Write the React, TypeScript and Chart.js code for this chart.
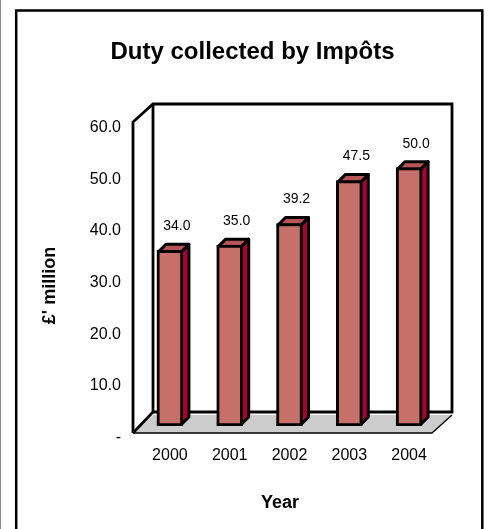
import React, { useEffect, useRef } from "react";
import { Chart, registerables } from "chart.js";

Chart.register(...registerables);

const years = ["2000", "2001", "2002", "2003", "2004"];
const duty = [34.0, 35.0, 39.2, 47.5, 50.0];
const yTicks = [0, 10, 20, 30, 40, 50, 60];

const FONT = "'Liberation Sans', Arial, sans-serif";
const BAR_FRONT = "#C76F69";
const BAR_TOP = "#B5565A";
const BAR_SIDE = "#A90038";
const FLOOR = "#CCCCCC";

const poly = (ctx: CanvasRenderingContext2D, pts: number[][]) => {
  ctx.beginPath();
  pts.forEach(([x, y], i) => (i ? ctx.lineTo(x, y) : ctx.moveTo(x, y)));
};

const frame3d = {
  id: "frame3d",
  beforeDraw(chart: any) {
    const { ctx, width, height } = chart;
    ctx.save();
    ctx.fillStyle = "#fff";
    ctx.fillRect(0, 0, width, height);
    ctx.fillStyle = "#8a8a8a";
    ctx.fillRect(0, 0, 1, height);
    ctx.strokeStyle = "#000";
    ctx.lineWidth = 2.5;
    ctx.beginPath();
    ctx.moveTo(16.2, height + 2);
    ctx.lineTo(16.2, 10.5);
    ctx.lineTo(482.3, 10.5);
    ctx.lineTo(482.3, height + 2);
    ctx.stroke();
    ctx.restore();
  },
  beforeDatasetsDraw(chart: any) {
    const { ctx, chartArea: a } = chart;
    const L = a.left, R = a.right, T = a.top, B = a.bottom;
    const dx = 20, dy = 20;
    ctx.save();
    ctx.lineJoin = "miter";
    // floor
    ctx.fillStyle = FLOOR;
    poly(ctx, [[L, B], [R, B], [R + dx, B - dy + 2], [L + dx, B - dy + 2]]);
    ctx.closePath();
    ctx.fill();
    ctx.strokeStyle = "#000";
    ctx.lineWidth = 1.3;
    poly(ctx, [[L, B], [R, B], [R + dx, B - dy + 2]]);
    ctx.stroke();
    // walls
    ctx.lineWidth = 2.8;
    poly(ctx, [[L, B], [L, T - 1], [L + dx, T - 19], [R + dx, T - 19], [R + dx, B - dy - 1], [L + dx, B - dy - 1]]);
    ctx.stroke();
    poly(ctx, [[L + dx, T - 19], [L + dx, B - dy - 1], [L, B]]);
    ctx.stroke();
    ctx.restore();
    // bars: side and top faces, then the front faces shifted into the depth
    const meta = chart.getDatasetMeta(0);
    ctx.save();
    ctx.translate(7, -7);
    ctx.strokeStyle = "#000";
    ctx.lineWidth = 3;
    ctx.lineJoin = "round";
    const d = 7.5;
    meta.data.forEach((bar: any) => {
      const l = bar.x - bar.width / 2 + 1.5;
      const r = bar.x + bar.width / 2 - 1.5;
      const t = bar.y + 1.5;
      const b = bar.base - 1.5;
      ctx.fillStyle = BAR_SIDE;
      poly(ctx, [[r, t], [r + d, t - d], [r + d, b - d], [r, b]]);
      ctx.closePath();
      ctx.fill();
      ctx.stroke();
      ctx.fillStyle = BAR_TOP;
      poly(ctx, [[l, t], [l + d, t - d], [r + d, t - d], [r, t]]);
      ctx.closePath();
      ctx.fill();
      ctx.stroke();
    });
  },
  afterDatasetsDraw(chart: any) {
    const { ctx } = chart;
    ctx.restore();
    const meta = chart.getDatasetMeta(0);
    ctx.save();
    ctx.fillStyle = "#000";
    ctx.font = `14px ${FONT}`;
    ctx.textAlign = "center";
    ctx.textBaseline = "middle";
    meta.data.forEach((bar: any, i: number) => {
      ctx.fillText(duty[i].toFixed(1), bar.x + 14, bar.y - 31);
    });
    ctx.restore();
  },
};

export default function App() {
  const ref = useRef<HTMLCanvasElement>(null);
  useEffect(() => {
    const chart = new Chart(ref.current as HTMLCanvasElement, {
      type: "bar",
      data: {
        labels: years,
        datasets: [
          {
            data: duty,
            backgroundColor: BAR_FRONT,
            borderColor: "#000",
            borderWidth: 3,
            borderSkipped: false,
            barThickness: 26,
          },
        ],
      },
      options: {
        responsive: false,
        animation: false,
        events: [],
        layout: { padding: { left: 33, right: 16, top: 0, bottom: 0 } },
        plugins: {
          legend: { display: false },
          tooltip: { enabled: false },
          title: {
            display: true,
            text: "Duty collected by Impôts",
            color: "#000",
            font: { family: FONT, size: 24, weight: "bold", lineHeight: 1.2 },
            padding: { top: 38, bottom: 56.2 },
          },
        },
        scales: {
          x: {
            grid: { display: false, drawTicks: false },
            border: { display: false },
            ticks: {
              color: "#000",
              font: { family: FONT, size: 16 },
              padding: 13,
              labelOffset: 7,
              maxRotation: 0,
            },
            title: {
              display: true,
              text: "Year ",
              color: "#000",
              font: { family: FONT, size: 18, weight: "bold" },
              padding: { top: 0, bottom: 15 },
            },
            afterFit(scale: any) {
              scale.height = 96;
            },
          },
          y: {
            min: 0,
            max: 60,
            afterBuildTicks(scale: any) {
              scale.ticks = yTicks.map((value) => ({ value }));
            },
            grid: { display: false, drawTicks: false },
            border: { display: false },
            ticks: {
              color: "#000",
              font: { family: FONT, size: 16 },
              padding: 12,
              labelOffset: 4.5,
              callback: (v: any) => (Number(v) === 0 ? "-" : Number(v).toFixed(1)),
            },
            title: {
              display: true,
              text: "£' million   ",
              color: "#000",
              font: { family: FONT, size: 18, weight: "bold" },
              padding: { top: 6, bottom: 0 },
            },
            afterFit(scale: any) {
              scale.width = 100;
            },
          },
          y2: {
            position: "right",
            grid: { display: false, drawTicks: false },
            border: { display: false },
            ticks: { display: false },
            afterFit(scale: any) {
              scale.width = 40;
            },
          },
        },
      },
      plugins: [frame3d],
    } as any);
    return () => chart.destroy();
  }, []);
  return (
    <canvas
      ref={ref}
      width={488}
      height={529}
      style={{ position: "fixed", left: 0, top: 0, display: "block" }}
    />
  );
}
